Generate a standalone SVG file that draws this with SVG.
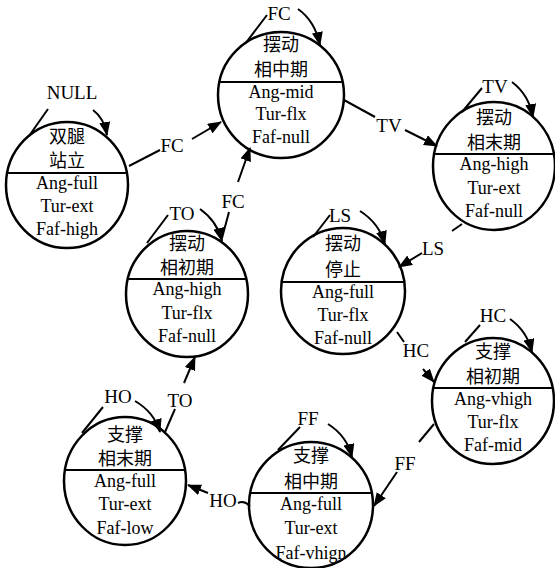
<svg xmlns="http://www.w3.org/2000/svg" width="555" height="568" viewBox="0 0 555 568">
<defs>
<marker id="ah" markerWidth="14" markerHeight="11" refX="13" refY="5.5" orient="auto" markerUnits="userSpaceOnUse"><path d="M0,0 L14,5.5 L0,11 z" fill="#000"/></marker>
<style>
.c{fill:#fff;stroke:#000;stroke-width:2.5}
.d{stroke:#000;stroke-width:2}
.t{font-family:"Liberation Serif","Times New Roman",serif;font-size:18px;fill:#000;text-anchor:middle}
.z{font-family:"Noto Sans CJK SC","Noto Sans CJK JP",sans-serif;font-size:18px;fill:#000;text-anchor:middle}
.e{fill:none;stroke:#000;stroke-width:2}
.a{fill:none;stroke:#000;stroke-width:2;marker-end:url(#ah)}
.l{font-family:"Liberation Serif","Times New Roman",serif;font-size:19px;fill:#000;text-anchor:middle}
</style>
</defs>
<rect width="555" height="568" fill="#fff"/>

<g id="n1">
<ellipse class="c" cx="67" cy="185" rx="61" ry="63"/>
<line class="d" x1="7" y1="173" x2="127" y2="173"/>
<text class="z" x="67" y="143">双腿</text>
<text class="z" x="67" y="167">站立</text>
<text class="t" x="67" y="189">Ang-full</text>
<text class="t" x="67" y="212">Tur-ext</text>
<text class="t" x="67" y="235">Faf-high</text>
</g>

<g id="n2">
<ellipse class="c" cx="281" cy="95" rx="63" ry="63"/>
<line class="d" x1="219" y1="82" x2="343" y2="82"/>
<text class="z" x="281" y="51">摆动</text>
<text class="z" x="281" y="76">相中期</text>
<text class="t" x="281" y="98">Ang-mid</text>
<text class="t" x="281" y="120">Tur-flx</text>
<text class="t" x="281" y="143">Faf-null</text>
</g>

<g id="n3">
<ellipse class="c" cx="494" cy="166" rx="61" ry="64"/>
<line class="d" x1="434" y1="154" x2="554" y2="154"/>
<text class="z" x="494" y="124">摆动</text>
<text class="z" x="494" y="149">相末期</text>
<text class="t" x="494" y="170">Ang-high</text>
<text class="t" x="494" y="194">Tur-ext</text>
<text class="t" x="494" y="217">Faf-null</text>
</g>

<g id="n4">
<ellipse class="c" cx="187" cy="294" rx="61" ry="63"/>
<line class="d" x1="127" y1="279" x2="247" y2="279"/>
<text class="z" x="187" y="250">摆动</text>
<text class="z" x="187" y="274">相初期</text>
<text class="t" x="187" y="295">Ang-high</text>
<text class="t" x="187" y="319">Tur-flx</text>
<text class="t" x="187" y="342">Faf-null</text>
</g>

<g id="n5">
<ellipse class="c" cx="343" cy="291" rx="62" ry="63"/>
<line class="d" x1="282" y1="282" x2="404" y2="282"/>
<text class="z" x="343" y="250">摆动</text>
<text class="z" x="343" y="276">停止</text>
<text class="t" x="343" y="298">Ang-full</text>
<text class="t" x="343" y="321">Tur-flx</text>
<text class="t" x="343" y="344">Faf-null</text>
</g>

<g id="n6">
<ellipse class="c" cx="493" cy="401" rx="61" ry="63"/>
<line class="d" x1="433" y1="388" x2="553" y2="388"/>
<text class="z" x="493" y="358">支撑</text>
<text class="z" x="493" y="383">相初期</text>
<text class="t" x="493" y="405">Ang-vhigh</text>
<text class="t" x="493" y="428">Tur-flx</text>
<text class="t" x="493" y="451">Faf-mid</text>
</g>

<g id="n7">
<ellipse class="c" cx="125" cy="481" rx="61" ry="64"/>
<line class="d" x1="65" y1="470" x2="185" y2="470"/>
<text class="z" x="125" y="441">支撑</text>
<text class="z" x="125" y="465">相末期</text>
<text class="t" x="125" y="487">Ang-full</text>
<text class="t" x="125" y="510">Tur-ext</text>
<text class="t" x="125" y="534">Faf-low</text>
</g>

<g id="n8">
<ellipse class="c" cx="311" cy="505" rx="62" ry="63"/>
<line class="d" x1="250" y1="493" x2="372" y2="493"/>
<text class="z" x="311" y="462">支撑</text>
<text class="z" x="311" y="488">相中期</text>
<text class="t" x="311" y="510">Ang-full</text>
<text class="t" x="311" y="534">Tur-ext</text>
<text class="t" x="311" y="559">Faf-vhign</text>
</g>

<g id="connectors">
<!-- n1 self NULL -->
<path class="e" d="M29,136 L48,109"/>
<path class="a" d="M93,110 Q104,118 107,135"/>
<text class="l" x="72" y="99">NULL</text>
<!-- n1 -> n2 FC -->
<path class="e" d="M129,166 L160,150"/>
<path class="a" d="M192,139 L221,122"/>
<text class="l" x="172" y="152">FC</text>
<!-- n2 self FC -->
<path class="e" d="M245,44 L267,15"/>
<path class="a" d="M298,9 Q315,21 320,45"/>
<text class="l" x="279" y="20">FC</text>
<!-- n2 -> n3 TV -->
<path class="e" d="M344,100 L375,117"/>
<path class="a" d="M405,130 L437,146"/>
<text class="l" x="389" y="132">TV</text>
<!-- n3 self TV -->
<path class="e" d="M462,112 L482,88"/>
<path class="a" d="M512,82 Q529,95 533,117"/>
<text class="l" x="495" y="93">TV</text>
<!-- n3 -> n5 LS -->
<path class="e" d="M462,224 L452,231"/>
<path class="a" d="M422,253 L399,267"/>
<text class="l" x="433" y="255">LS</text>
<!-- n5 self LS -->
<path class="e" d="M313,237 L330,215"/>
<path class="a" d="M360,211 Q379,223 385,244"/>
<text class="l" x="340" y="222">LS</text>
<!-- n5 -> n6 HC -->
<path class="e" d="M397,332 L404,342"/>
<path class="a" d="M423,369 L434,382"/>
<text class="l" x="416" y="357">HC</text>
<!-- n6 self HC -->
<path class="e" d="M465,342 L480,325"/>
<path class="a" d="M510,319 Q527,331 532,352"/>
<text class="l" x="493" y="322">HC</text>
<!-- n6 -> n8 FF -->
<path class="e" d="M434,424 L419,442"/>
<path class="a" d="M397,472 L374,506"/>
<text class="l" x="405" y="470">FF</text>
<!-- n8 self FF -->
<path class="e" d="M278,450 L300,427"/>
<path class="a" d="M328,424 Q347,436 352,457"/>
<text class="l" x="308" y="425">FF</text>
<!-- n8 -> n7 HO -->
<path class="e" d="M250,506 Q244,500 238,503"/>
<path class="a" d="M208,493 L188,485"/>
<text class="l" x="223" y="507">HO</text>
<!-- n7 self HO -->
<path class="e" d="M82,433 L103,407"/>
<path class="a" d="M135,401 Q154,412 160,432"/>
<text class="l" x="118" y="403">HO</text>
<!-- n7 -> n4 TO -->
<path class="e" d="M165,432 L175,409"/>
<path class="a" d="M184,383 L195,357"/>
<text class="l" x="180" y="407">TO</text>
<!-- n4 self TO -->
<path class="e" d="M147,243 L168,215"/>
<path class="a" d="M200,209 Q217,221 222,241"/>
<text class="l" x="182" y="220">TO</text>
<!-- n4 -> n2 FC -->
<path class="e" d="M222,238 L229,212"/>
<path class="a" d="M238,182 L250,148"/>
<text class="l" x="233" y="208">FC</text>
</g>
</svg>
